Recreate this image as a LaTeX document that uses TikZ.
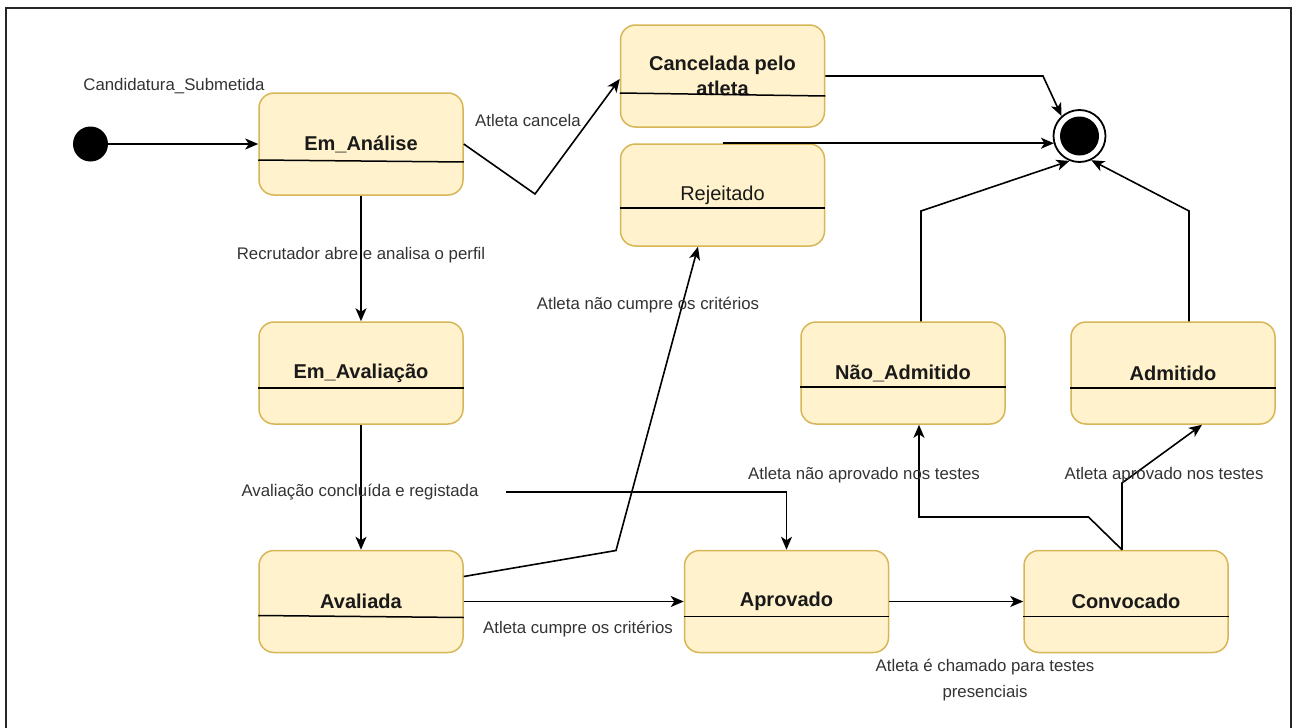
\documentclass[tikz,border=0pt]{standalone}
\usepackage{fontspec}
\setmainfont{Liberation Sans}
\usetikzlibrary{arrows.meta}
\definecolor{statefill}{HTML}{FFF2CC}
\definecolor{stateline}{HTML}{D6B656}
\definecolor{ink}{HTML}{1A1A1A}

\begin{document}
\begin{tikzpicture}[x=1pt,y=-1pt,
  statebox/.style={draw=stateline, fill=statefill, line width=1.5pt, rounded corners=15pt,
    minimum width=204pt, minimum height=102pt, inner sep=0pt,
    font=\bfseries\fontsize{20}{25}\selectfont, text=ink, align=center},
  plainbox/.style={statebox, font=\fontsize{20}{25}\selectfont},
  divider/.style={line width=1.5pt, draw=black},
  trans/.style={draw=black, line width=1.6pt, -{Stealth[length=13pt,width=11pt,inset=3.5pt]}},
  lbl/.style={font=\fontsize{16.8}{26}\selectfont, text=black!80, inner sep=0pt, align=center}
]
\useasboundingbox (0,0) rectangle (1302,728);

% frame
\draw[line width=2pt, black!85] (6,740) -- (6,8) -- (1291,8) -- (1291,740);

% pseudo states
\node[circle, fill=black, minimum size=35pt, inner sep=0pt] (start) at (90.5,144) {};
\node[circle, draw=black, line width=1.8pt, fill=white, minimum size=52pt, inner sep=0pt] (end) at (1079.5,136) {};
\node[circle, fill=black, minimum size=39pt, inner sep=0pt] (endcore) at (end.center) {};

% states
\node[statebox] (ema)  at (361,144)   {Em\_Análise};
\node[statebox] (emv)  at (361,373)   {Em\_Avaliação};
\node[statebox] (aval) at (361,601.5) {Avaliada};
\node[statebox] (aprov) at (786.5,601.5) {Aprovado};
\node[statebox] (conv) at (1126,601.5) {Convocado};
\node[statebox] (canc) at (722.5,76)  {Cancelada pelo\\atleta};
\node[plainbox] (rej)  at (722.5,195) {Rejeitado};
\node[statebox] (nadm) at (903,373)   {Não\_Admitido};
\node[statebox] (adm)  at (1173,373)  {Admitido};

% compartment lines
\draw[divider] ([yshift=-16pt]ema.west) -- ([yshift=-18pt]ema.east);
\draw[divider] ([yshift=-15pt]emv.west) -- ([yshift=-15pt]emv.east);
\draw[divider] ([yshift=-14pt]aval.west) -- ([yshift=-16pt]aval.east);
\draw[divider] ([yshift=-15pt]aprov.west) -- ([yshift=-15pt]aprov.east);
\draw[divider] ([yshift=-15pt]conv.west) -- ([yshift=-15pt]conv.east);
\draw[divider] ([yshift=-17pt]canc.west) -- ([yshift=-20pt]canc.east);
\draw[divider] ([yshift=-13pt]rej.west) -- ([yshift=-13pt]rej.east);
\draw[divider] ([yshift=-14pt]nadm.west) -- ([yshift=-14pt]nadm.east);
\draw[divider] ([yshift=-15pt]adm.west) -- ([yshift=-15pt]adm.east);

% transitions
\draw[trans] (start.east) -- (start.east -| ema.west);
\draw[trans] (ema.south) -- (emv.north);
\draw[trans] (emv.south) -- (aval.north);
\coordinate (avfrom) at (506,492);
\draw[trans] (avfrom) -| (aprov.north);
\draw[trans] (ema.east) -- (535,194) -- ([yshift=-3pt]canc.west);
\draw[trans] ([yshift=25pt]aval.east) -- (616,550.5) -- ([xshift=-24.5pt]rej.south);
\draw[trans] (aval.east) -- (aprov.west);
\draw[trans] (aprov.east) -- (conv.west);
\draw[trans] ([xshift=-4pt]conv.north) -- (1088.5,517) -- (919,517) -- ([xshift=16pt]nadm.south);
\draw[trans] ([xshift=-4pt]conv.north) -- (1122,483) -- ([xshift=29pt]adm.south);
\draw[trans] (canc.east) -- (1043,76) -- (end.132);
\draw[trans] (rej.north) -- (rej.north -| end.198);
\draw[trans] ([xshift=18pt]nadm.north) -- (921,211) -- (end.248);
\draw[trans] ([xshift=16pt]adm.north) -- (1189,211) -- (end.296);

% transition labels
\node[lbl] (l1) at (174,86)  {Candidatura\_Submetida};
\node[lbl] (l2) at (528,120) {Atleta cancela};
\node[lbl] (l3) at (361,255) {Recrutador abre e analisa o perfil};
\node[lbl] (l4) at (648,305) {Atleta não cumpre os critérios};
\node[lbl] (l5) at (360,492) {Avaliação concluída e registada};
\node[lbl] (l6) at (864,475) {Atleta não aprovado nos testes};
\node[lbl] (l7) at (1164,475) {Atleta aprovado nos testes};
\node[lbl] (l8) at (578,629) {Atleta cumpre os critérios};
\node[lbl] (l9) at (985,680) {Atleta é chamado para testes\\presenciais};
\end{tikzpicture}
\end{document}
